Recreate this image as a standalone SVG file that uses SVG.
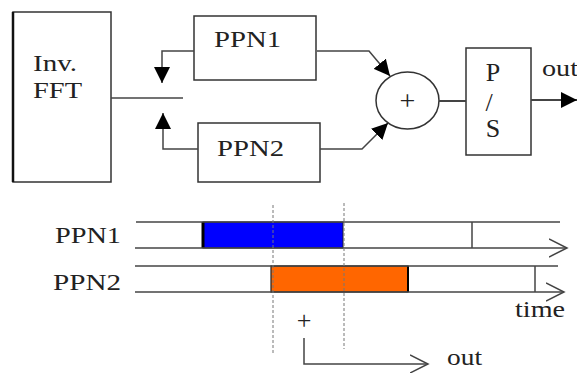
<svg xmlns="http://www.w3.org/2000/svg" width="577" height="373" viewBox="0 0 577 373">
<style>
.box{fill:#fff;stroke:#333;stroke-width:1.5}
.ln{fill:none;stroke:#444;stroke-width:1.5}
.t{font-family:"Liberation Serif","Times New Roman",serif;font-size:24px;fill:#222}
.dash{fill:none;stroke:#777;stroke-width:1;stroke-dasharray:3,2}
</style>
<defs>
<marker id="ahb" viewBox="0 0 16 16" refX="16" refY="8" markerWidth="16" markerHeight="16" markerUnits="userSpaceOnUse" orient="auto">
<path d="M0,0 L16,8 L0,16 Z" fill="#000"/>
</marker>
<marker id="open" viewBox="0 0 20 20" refX="18" refY="10" markerWidth="20" markerHeight="20" markerUnits="userSpaceOnUse" orient="auto">
<path d="M0,1 L18,10 L0,19" fill="none" stroke="#444" stroke-width="1.5"/>
</marker>
</defs>
<g id="fft">
<rect class="box" x="13" y="12" width="98" height="170"/>
<line x1="13" y1="12" x2="13" y2="182" stroke="#111" stroke-width="2.5"/>
<text class="t" x="33" y="71" textLength="44" lengthAdjust="spacingAndGlyphs">Inv.</text>
<text class="t" x="33" y="98" textLength="49" lengthAdjust="spacingAndGlyphs">FFT</text>
</g>
<g id="ppn1">
<rect class="box" x="194" y="16" width="122" height="64"/>
<text class="t" x="214" y="47" textLength="67" lengthAdjust="spacingAndGlyphs">PPN1</text>
</g>
<g id="ppn2">
<rect class="box" x="198" y="123" width="122" height="59"/>
<text class="t" x="217" y="156" textLength="67" lengthAdjust="spacingAndGlyphs">PPN2</text>
</g>
<g id="sum">
<ellipse class="box" cx="407.5" cy="100.5" rx="31.5" ry="28.5"/>
<text class="t" x="407.5" y="110" text-anchor="middle" style="font-size:28px">+</text>
</g>
<g id="ps">
<rect class="box" x="466" y="48" width="65" height="107"/>
<text class="t" x="493" y="81" text-anchor="middle" style="font-size:26px">P</text>
<text class="t" x="489" y="111" text-anchor="middle" style="font-size:26px">/</text>
<text class="t" x="493" y="137" text-anchor="middle" style="font-size:26px">S</text>
</g>
<g id="connectors">
<line class="ln" x1="111" y1="98" x2="183" y2="98"/>
<polyline class="ln" points="194,51 162,51 162,83" marker-end="url(#ahb)"/>
<polyline class="ln" points="198,149 163,149 163,113" marker-end="url(#ahb)"/>
<polyline class="ln" points="317,51 369,51 390,76" marker-end="url(#ahb)"/>
<polyline class="ln" points="320,149 362,149 388,123" marker-end="url(#ahb)"/>
<line class="ln" x1="439" y1="101" x2="466" y2="101" style="stroke-width:2"/>
<line class="ln" x1="531" y1="100" x2="577" y2="100" style="stroke-width:2" marker-end="url(#ahb)"/>
</g>
<text class="t" x="542" y="76" textLength="36" lengthAdjust="spacingAndGlyphs">out</text>
<g id="timing">
<rect x="203" y="222" width="140" height="26" fill="#0000ff" stroke="#222" stroke-width="1"/>
<line x1="203" y1="222" x2="203" y2="248" stroke="#000" stroke-width="3"/>
<rect x="271" y="266" width="137" height="26" fill="#ff6600" stroke="#222" stroke-width="1.2"/>
<line x1="408" y1="266" x2="408" y2="292" stroke="#000" stroke-width="2"/>
<line class="ln" x1="136" y1="222" x2="560" y2="222"/>
<line class="ln" x1="135" y1="248" x2="567" y2="248" marker-end="url(#open)"/>
<line class="ln" x1="472" y1="222" x2="472" y2="248"/>
<line class="ln" x1="135" y1="266" x2="558" y2="266"/>
<line class="ln" x1="135" y1="292" x2="564" y2="292" marker-end="url(#open)"/>
<line class="ln" x1="535" y1="266" x2="535" y2="292"/>
<line class="dash" x1="273" y1="205" x2="273" y2="353"/>
<line class="dash" x1="344" y1="203" x2="344" y2="349"/>
<text class="t" x="55" y="243" textLength="66" lengthAdjust="spacingAndGlyphs">PPN1</text>
<text class="t" x="53" y="290" textLength="68" lengthAdjust="spacingAndGlyphs">PPN2</text>
<text class="t" x="515" y="317" textLength="50" lengthAdjust="spacingAndGlyphs">time</text>
<text class="t" x="304" y="329" text-anchor="middle" style="font-size:26px">+</text>
<polyline class="ln" points="304,338 304,364 428,364" marker-end="url(#open)"/>
<text class="t" x="447" y="365" textLength="35" lengthAdjust="spacingAndGlyphs">out</text>
</g>
</svg>
